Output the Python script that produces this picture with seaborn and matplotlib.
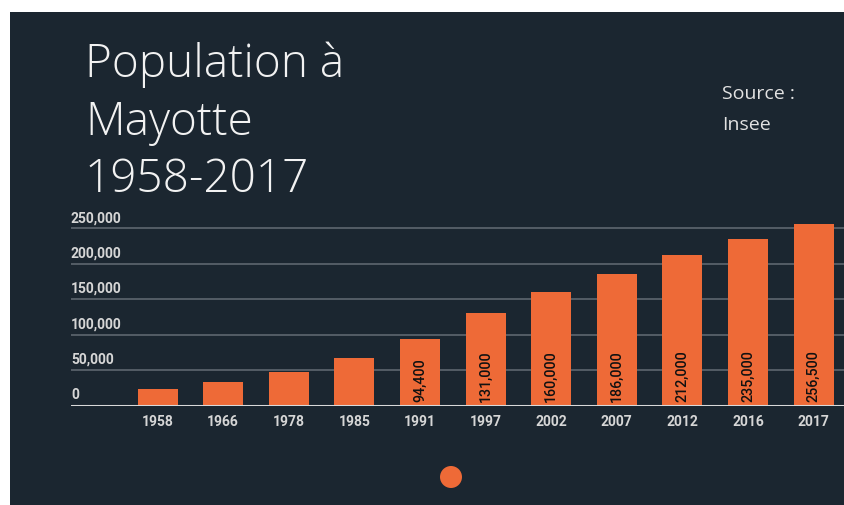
import matplotlib
matplotlib.use("Agg")
import matplotlib.pyplot as plt
import matplotlib.patches as mpatches
import pandas as pd
import seaborn as sns

# Data
years = ["1958", "1966", "1978", "1985", "1991", "1997", "2002", "2007", "2012", "2016", "2017"]
population = [23400, 32600, 47200, 67200, 94400, 131000, 160000, 186000, 212000, 235000, 256500]
labelled_years = ["1991", "1997", "2002", "2007", "2012", "2016", "2017"]
y_ticks = [0, 50000, 100000, 150000, 200000, 250000]
y_tick_labels = ["0", "50,000", "100,000", "150,000", "200,000", "250,000"]

BG = "#1b2630"
ORANGE = "#ee6a37"
GRID = "#636c74"
TEXT = "#d6d6d6"

df = pd.DataFrame({"year": years, "population": population})

sns.set_theme(style="dark")
plt.rcParams["font.family"] = ["Roboto", "DejaVu Sans"]

fig = plt.figure(figsize=(8.45, 5.06), dpi=100)
fig.patch.set_facecolor("white")

# dark card behind everything
fig.add_artist(mpatches.Rectangle((10 / 845, -0.01), 1.0, 493 / 506 + 0.01,
                                  transform=fig.transFigure, facecolor=BG,
                                  edgecolor="none", zorder=-10))

ax = fig.add_axes([71 / 845, 0.1966, 1 - 71 / 845, 0.367])
ax.set_facecolor("none")

sns.barplot(data=df, x="year", y="population", order=years, color=ORANGE,
            width=0.61, saturation=1, linewidth=0, edgecolor="none",
            ax=ax, zorder=2)

ax.set_xlim(-1.32, 10.48)
ax.set_ylim(0, 262000)
ax.set_xlabel("")
ax.set_ylabel("")

# grid lines and baseline
ax.set_yticks(y_ticks)
ax.set_yticklabels([])
ax.yaxis.grid(True, color=GRID, linewidth=1.1)
ax.xaxis.grid(False)
ax.set_axisbelow(True)
ax.axhline(0, color="#d9d9d9", linewidth=2.2, zorder=3)
for s in ax.spines.values():
    s.set_visible(False)

# y labels sit above the grid lines, left aligned
for v, lab in zip(y_ticks, y_tick_labels):
    ax.annotate(lab, xy=(0, v), xycoords=ax.get_yaxis_transform(),
                xytext=(0, 3), textcoords="offset points",
                ha="left", va="bottom", fontsize=10, fontweight="bold",
                color=TEXT)

ax.tick_params(axis="x", length=0, pad=6, labelcolor=TEXT, labelsize=10)
ax.tick_params(axis="y", length=0)
for t in ax.get_xticklabels():
    t.set_fontweight("bold")

# value labels inside the bars
for i, (yr, v) in enumerate(zip(years, population)):
    if yr in labelled_years:
        ax.annotate(f"{v:,}", xy=(i, 0), xytext=(0, 3.5), textcoords="offset points",
                    rotation=90, ha="center", va="bottom", fontsize=10.3,
                    fontweight="medium", color="#111111", zorder=4)

# title and source
fig.text(85 / 845, 1 - 42 / 506, "Population à\nMayotte\n1958-2017",
         ha="left", va="top", fontsize=33, fontweight="light",
         family=["Open Sans", "DejaVu Sans"], color="#f2f2f2", linespacing=1.32)
fig.text(722 / 845, 1 - 85 / 506, "Source :\nInsee", ha="left", va="top",
         fontsize=14, family=["Open Sans", "DejaVu Sans"], color="#e2e2e2",
         linespacing=1.9)

# orange dot below the chart
fig.add_artist(mpatches.Ellipse((451 / 845, 1 - 478 / 506), 22 / 845, 22 / 506,
                                transform=fig.transFigure, facecolor=ORANGE,
                                edgecolor="none"))

fig.savefig("out.png", dpi=100, facecolor=fig.get_facecolor())
